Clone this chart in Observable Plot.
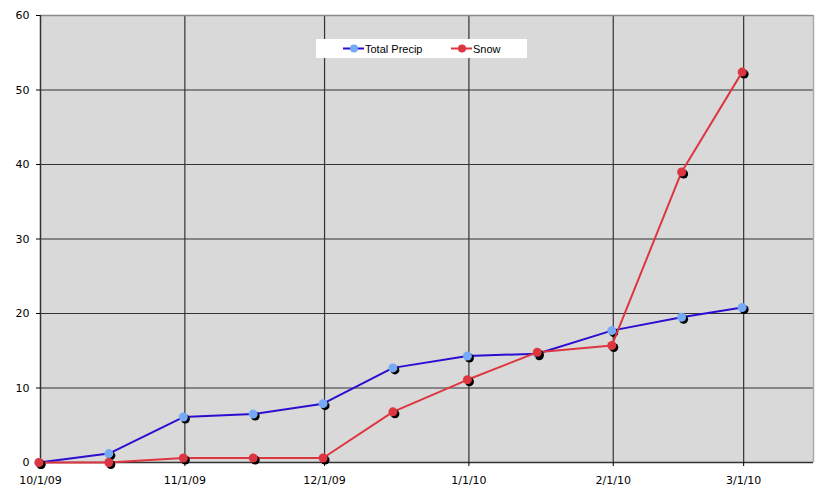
<!DOCTYPE html>
<html>
<head>
<meta charset="utf-8">
<script src="https://cdn.jsdelivr.net/npm/d3@7"></script>
<script src="https://cdn.jsdelivr.net/npm/@observablehq/plot@0.6"></script>
<style>
  body { margin: 0; background: #fff; }
  #wrap { position: relative; width: 827px; height: 490px; }
  #legend { position: absolute; left: 316px; top: 39px; width: 211px; height: 19px; background: #fff;
    font-family: "Liberation Sans", Arial, sans-serif; font-size: 11px; color: #000; }
  #legend .item { position: absolute; top: 0; height: 19px; display: flex; align-items: center; }
  #legend svg { display: block; }
</style>
</head>
<body>
<div id="wrap">
  <div id="chart"></div>
  <div id="legend"></div>
</div>
<script>
const dates = ["2009-10-01","2009-10-16","2009-11-01","2009-11-16","2009-12-01","2009-12-16","2010-01-01","2010-01-16","2010-02-01","2010-02-16","2010-03-01"];
const totalPrecip = [0, 1.2, 6.1, 6.5, 7.9, 12.7, 14.3, 14.6, 17.7, 19.5, 20.8];
const snow = [0, 0, 0.6, 0.6, 0.6, 6.8, 11.1, 14.8, 15.7, 39.0, 52.4];
const seriesNames = ["Total Precip", "Snow"];
const monthTicks = ["2009-10-01","2009-11-01","2009-12-01","2010-01-01","2010-02-01","2010-03-01"];
const yTicks = [0, 10, 20, 30, 40, 50, 60];
const gridY = [10, 20, 30, 40, 50];
const xDomain = ["2009-10-01", "2010-03-16"];

const parse = d3.utcParse("%Y-%m-%d");
const fmt = d3.utcFormat("%-m/%-d/%y");
const precipData = dates.map((d, i) => ({date: parse(d), value: totalPrecip[i]}));
const snowData = dates.map((d, i) => ({date: parse(d), value: snow[i]}));
const ticks = monthTicks.map(parse);

const blueLine = "#2a0fd0", blueDot = "#74aaf7";
const redLine = "#dd3640", redDot = "#dd3640";

const chart = Plot.plot({
  width: 827,
  height: 490,
  marginLeft: 40,
  marginRight: 14,
  marginTop: 15,
  marginBottom: 28,
  style: {fontFamily: "'DejaVu Sans', sans-serif", fontSize: "11px", color: "#000", background: "#fff"},
  x: {type: "utc", domain: xDomain.map(parse), label: null},
  y: {domain: [0, 60], label: null},
  marks: [
    Plot.frame({fill: "#d9d9d9", stroke: "none"}),
    Plot.ruleY(gridY, {stroke: "#333", strokeWidth: 1.2}),
    Plot.ruleX(ticks.slice(1), {stroke: "#333", strokeWidth: 1.2}),
    Plot.ruleY([60], {stroke: "#8a8a8a", strokeWidth: 1.5}),
    Plot.ruleX([parse(xDomain[1])], {stroke: "#aaa", strokeWidth: 1.5}),
    Plot.ruleX([ticks[0]], {stroke: "#333", strokeWidth: 1.5}),
    Plot.ruleY([0], {stroke: "#333", strokeWidth: 1.5}),
    Plot.axisX({ticks: ticks, tickFormat: fmt, tickSize: 4, tickPadding: 10, stroke: "#000", label: null}),
    Plot.axisY({ticks: yTicks, tickSize: 4, tickPadding: 7, label: null}),
    Plot.line(precipData, {x: "date", y: "value", stroke: blueLine, strokeWidth: 2, dx: -1.5}),
    Plot.dot(precipData, {x: "date", y: "value", r: 4.5, fill: "#000", stroke: "none", dx: 0.5, dy: 2}),
    Plot.dot(precipData, {x: "date", y: "value", r: 4.5, fill: blueDot, stroke: "none", dx: -1.5}),
    Plot.line(snowData, {x: "date", y: "value", stroke: redLine, strokeWidth: 2, dx: -1.5}),
    Plot.dot(snowData, {x: "date", y: "value", r: 4.5, fill: "#000", stroke: "none", dx: 0.5, dy: 2}),
    Plot.dot(snowData, {x: "date", y: "value", r: 4.5, fill: redDot, stroke: "none", dx: -1.5})
  ]
});
document.getElementById("chart").appendChild(chart);

// legend
const legend = document.getElementById("legend");
const items = [
  {name: seriesNames[0], line: blueLine, dot: blueDot, left: 27},
  {name: seriesNames[1], line: redLine, dot: redDot, left: 135}
];
for (const it of items) {
  const div = document.createElement("div");
  div.className = "item";
  div.style.left = it.left + "px";
  div.innerHTML = `<svg width="22" height="19"><line x1="0" x2="21" y1="9.5" y2="9.5" stroke="${it.line}" stroke-width="2"/><circle cx="11" cy="9.5" r="4" fill="${it.dot}"/></svg><span>${it.name}</span>`;
  legend.appendChild(div);
}
</script>
</body>
</html>
